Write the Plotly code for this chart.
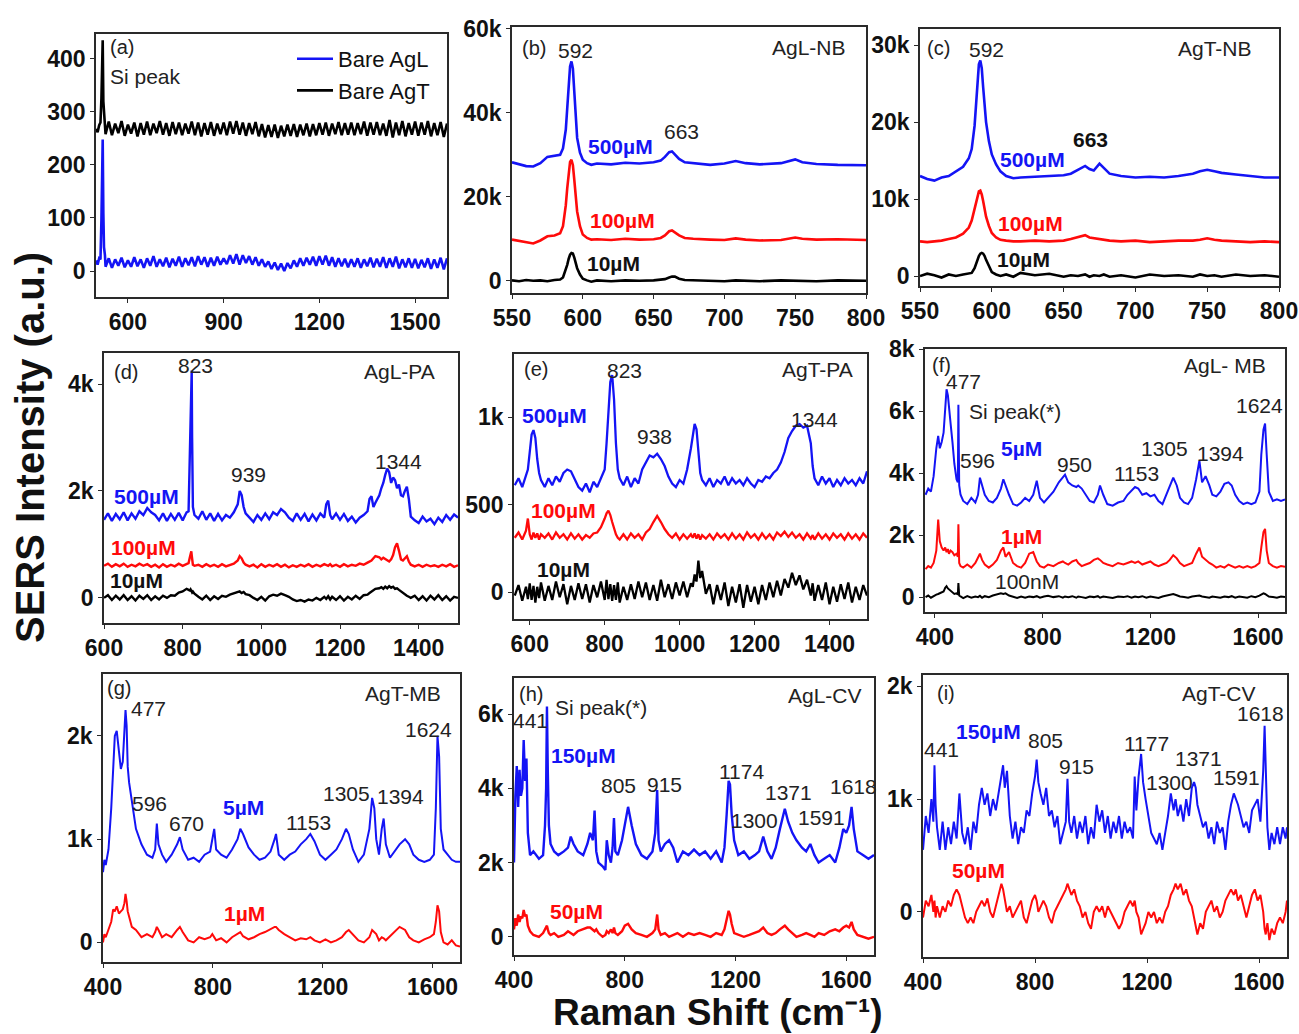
import plotly.graph_objects as go

# ---------------- DATA ----------------
# (a) bare substrates
a_x = [500, 505, 510, 514, 517, 519, 521, 523, 525, 528] + list(range(530, 1601, 10))
a_AgL = [20, 12, 24, 22, 95, 150, 248, 110, 45, 30,
         8, 24, 6, 22, 10, 25, 7, 20,
         8, 26, 9, 22, 6, 24, 10, 28, 8, 22,
         9, 25, 7, 23, 10, 27, 8, 24, 11, 26,
         9, 28, 12, 26, 8, 25, 10, 27, 12, 24,
         13, 30, 14, 32, 12, 30, 15, 28, 12, 26,
         10, 22, 8, 18, 4, 16, 2, 14, 0, 15,
         5, 20, 8, 24, 10, 25, 12, 27, 10, 28,
         12, 29, 10, 26, 8, 24, 9, 23, 7, 22,
         8, 24, 6, 22, 9, 25, 7, 23, 8, 26,
         6, 24, 8, 27, 5, 22, 7, 24, 6, 23,
         5, 21, 7, 24, 4, 22, 6, 25, 3, 24]
a_AgT = [268, 262, 275, 280, 325, 380, 435, 320, 290, 275,
         258, 282, 256, 278, 260, 283, 255, 276,
         259, 280, 254, 279, 257, 282, 256, 278, 260, 283,
         257, 279, 255, 281, 258, 280, 256, 278, 259, 282,
         256, 280, 254, 279, 257, 281, 255, 278, 258, 280,
         256, 282, 259, 283, 257, 280, 255, 279, 258, 281,
         254, 277, 252, 275, 253, 276, 251, 274, 254, 276,
         255, 277, 253, 276, 256, 278, 254, 277, 256, 279,
         257, 280, 255, 278, 258, 281, 256, 279, 257, 280,
         256, 279, 258, 282, 255, 280, 257, 281, 256, 278,
         255, 285, 252, 280, 256, 283, 254, 279, 257, 282,
         255, 280, 257, 283, 254, 279, 256, 281, 253, 278]

# (b) AgL-NB  (values in k)
b_x = [550, 555, 560, 565, 570, 575, 580, 584, 586, 588, 589, 590, 591, 592, 593, 594, 595, 596, 598, 600,
       603, 606, 610, 620, 630, 640, 650, 655, 658, 661, 663, 665, 668, 672, 678, 690, 700, 708, 715, 725,
       740, 750, 755, 765, 780, 800]
b_500 = [28.2, 27.8, 27.3, 27.2, 28.0, 29.5, 29.8, 30.0, 31.5, 36, 41, 47, 51, 52.2, 50.5, 45, 39, 34, 30.5, 28.8,
         28.0, 27.6, 27.9, 27.7, 28.1, 27.9, 28.2, 28.6, 29.5, 30.6, 30.8, 30.0, 29.0, 28.2, 28.0, 27.6, 27.9, 28.5, 28.0, 27.7,
         28.0, 28.9, 28.2, 27.8, 27.6, 27.5]
b_100 = [9.8, 9.5, 9.2, 8.9, 9.6, 10.6, 10.8, 11.3, 13, 18, 22, 26, 28.3, 28.8, 27.5, 24, 20, 16.5, 13, 11,
         10.2, 9.8, 9.9, 9.7, 10.0, 9.8, 9.9, 10.2, 10.8, 11.8, 12.0, 11.5, 10.8, 10.2, 10.0, 9.8, 9.7, 10.1, 9.8, 9.6,
         9.7, 10.3, 10.0, 9.8, 9.9, 9.7]
b_10 = [0.1, -0.1, 0.2, 0, 0.1, -0.1, 0.2, 0.3, 0.8, 2.5, 3.8, 5.2, 6.2, 6.6, 6.5, 5.5, 4.2, 3.0, 1.5, 0.5,
        0.1, -0.2, 0.1, -0.1, 0.1, 0, 0.1, 0.2, 0.4, 0.8, 1.0, 1.0, 0.5, 0.2, 0.1, 0, -0.1, 0.1, 0, -0.1,
        0.1, 0, 0.1, -0.1, 0.1, 0]

# (c) AgT-NB  (values in k)
c_x = [550, 555, 560, 565, 570, 575, 580, 584, 586, 588, 589, 590, 591, 592, 593, 594, 595, 596, 598, 600,
       603, 606, 610, 615, 620, 630, 640, 650, 655, 660, 665, 668, 671, 675, 678, 682, 690, 700, 710, 720,
       730, 740, 745, 750, 755, 760, 770, 780, 790, 800]
c_500 = [13.0, 12.6, 12.4, 12.8, 13.0, 13.6, 14.2, 15.3, 16.5, 19.5, 22, 25, 27.5, 28, 27, 24.5, 22, 20, 17.5, 15.8,
         14.5, 13.6, 13.0, 12.7, 12.8, 12.9, 13.0, 13.1, 13.3, 13.8, 14.3, 13.9, 13.7, 14.6, 14.0, 13.3, 13.0, 12.8, 12.9, 12.8,
         13.0, 13.3, 13.6, 13.8, 13.6, 13.4, 13.2, 13.0, 12.8, 12.8]
c_100 = [4.5, 4.4, 4.5, 4.6, 4.8, 5.0, 5.5, 6.3, 7.2, 8.8, 9.8, 10.6, 11.0, 11.1, 10.6, 9.7, 8.6, 7.7, 6.5, 5.6,
         5.0, 4.7, 4.6, 4.5, 4.5, 4.6, 4.5, 4.6, 4.8, 5.1, 5.3, 5.0, 4.9, 4.8, 4.7, 4.6, 4.5, 4.6, 4.4, 4.5,
         4.6, 4.6, 4.7, 4.9, 4.7, 4.6, 4.5, 4.4, 4.5, 4.4]
c_10 = [0.0, 0.3, 0.1, -0.2, 0.2, 0.0, 0.2, 0.3, 0.4, 1.0, 1.6, 2.2, 2.6, 2.9, 3.0, 2.9, 2.6, 2.1, 1.2, 0.5,
        0.2, 0.0, 0.2, -0.1, 0.4, 0.1, 0.3, -0.1, 0.1, 0.0, 0.2, -0.1, 0.1, 0.0, 0.2, -0.1, 0.1, -0.2, 0.2, 0.0,
        0.1, -0.1, 0.2, 0.0, 0.1, -0.1, 0.2, 0.0, 0.1, -0.1]

# (d) AgL-PA  (values in k)
d_x = [600, 610, 620, 630, 640, 650, 660, 670, 680, 690, 700, 710, 720, 730, 740, 750, 760, 770, 780, 790, 800, 810,
       815, 818, 820, 822, 823, 824, 826, 830,
       840, 850, 860, 870, 880, 890, 900, 910, 920, 930, 940,
       945, 950, 955, 960,
       970, 980, 990, 1000, 1010, 1020, 1030, 1040, 1050, 1060, 1070, 1080, 1090, 1100, 1110, 1120, 1130, 1140, 1150, 1160,
       1165, 1170, 1175, 1180,
       1190, 1200, 1210, 1220, 1230, 1240, 1250, 1260, 1270,
       1275, 1280, 1285, 1290,
       1300, 1305, 1310, 1315, 1320, 1325, 1330, 1335, 1340, 1345, 1350, 1355, 1360, 1365, 1370, 1375, 1380,
       1390, 1400, 1410, 1420, 1430, 1440, 1450, 1460, 1470, 1480, 1490, 1500]
d_500 = [1.46, 1.58, 1.44, 1.57, 1.47, 1.60, 1.45, 1.58, 1.48, 1.62, 1.55, 1.68, 1.60, 1.55, 1.45, 1.58, 1.44, 1.57, 1.46, 1.59, 1.45, 1.60,
         1.62, 2.5, 3.4, 4.2, 4.25, 3.0, 1.7, 1.55,
         1.48, 1.62, 1.46, 1.58, 1.44, 1.57, 1.45, 1.55, 1.50, 1.60, 1.75,
         2.0, 1.92, 1.7, 1.58,
         1.50, 1.42, 1.55, 1.46, 1.58, 1.47, 1.60, 1.55, 1.66, 1.60, 1.50, 1.44, 1.58, 1.46, 1.57, 1.43, 1.56, 1.45, 1.58, 1.50,
         1.75, 1.82, 1.55, 1.47,
         1.58, 1.46, 1.57, 1.44, 1.52, 1.41, 1.50, 1.55, 1.62,
         1.85, 1.90, 1.70, 1.78,
         1.92, 2.05, 2.15, 2.30, 2.42, 2.35, 2.15, 2.25, 2.20, 2.05, 2.12, 1.92, 1.90, 2.00, 2.08, 1.85, 1.52,
         1.45, 1.40, 1.52, 1.43, 1.48, 1.38, 1.50, 1.42, 1.55, 1.46, 1.56, 1.50]
d_100 = [0.60, 0.64, 0.58, 0.63, 0.59, 0.64, 0.58, 0.62, 0.59, 0.64, 0.60, 0.63, 0.58, 0.62, 0.57, 0.63, 0.58, 0.62, 0.59, 0.64, 0.60, 0.63,
         0.65, 0.75, 0.86, 0.87, 0.80, 0.70, 0.62, 0.60,
         0.62, 0.58, 0.63, 0.59, 0.62, 0.58, 0.63, 0.59, 0.62, 0.64, 0.70,
         0.78, 0.74, 0.66, 0.62,
         0.59, 0.62, 0.57, 0.63, 0.58, 0.62, 0.59, 0.63, 0.58, 0.62, 0.57, 0.61, 0.58, 0.62, 0.59, 0.63, 0.58, 0.62, 0.59, 0.63,
         0.62, 0.60, 0.63, 0.59,
         0.62, 0.58, 0.63, 0.59, 0.62, 0.60, 0.64, 0.62, 0.66,
         0.68, 0.70, 0.74, 0.78,
         0.76, 0.72, 0.75, 0.73, 0.70, 0.68, 0.72, 0.80, 0.95, 1.02, 0.88, 0.72, 0.70, 0.74, 0.78, 0.68, 0.62,
         0.59, 0.62, 0.58, 0.62, 0.59, 0.61, 0.58, 0.62, 0.59, 0.63, 0.58, 0.61]
d_10 = [0.0, 0.05, -0.04, 0.04, -0.03, 0.05, -0.04, 0.03, -0.05, 0.04, -0.02, 0.05, -0.04, 0.03, -0.03, 0.04, 0.0, 0.05, 0.04, 0.10, 0.12, 0.17,
        0.15, 0.14, 0.16, 0.12, 0.13, 0.10, 0.12, 0.08,
        0.02, -0.03, 0.04, -0.04, 0.03, -0.02, 0.04, 0.02, 0.06, 0.08, 0.10,
        0.12, 0.09, 0.11, 0.07,
        0.05, 0.0, -0.04, 0.02, -0.05, 0.03, 0.06, 0.04, 0.08, 0.05, 0.02, -0.03, -0.06, -0.04, -0.07, -0.03, -0.05, 0.0, -0.04, 0.02,
        -0.02, 0.03, -0.03, 0.02,
        -0.04, 0.03, -0.05, 0.02, -0.03, 0.04, -0.02, 0.05, 0.06,
        0.09, 0.12, 0.14, 0.17,
        0.18, 0.20, 0.17, 0.21, 0.18, 0.22, 0.19, 0.21, 0.17, 0.18, 0.15, 0.12, 0.10, 0.06, 0.04, 0.02, 0.0,
        0.04, -0.04, 0.03, -0.05, 0.04, -0.03, 0.05, -0.04, 0.03, -0.05, 0.02, 0.0]

# (e) AgT-PA  (raw values)
e_x = [560, 570, 580, 590,
       595, 600, 605, 610, 615, 620, 625, 630,
       640, 650, 660, 670, 680, 690, 700, 710, 720, 730, 740, 750, 760, 770, 780, 790, 800,
       805, 810, 815, 820, 825, 830, 835, 840,
       850, 860, 870, 880, 890, 900, 910, 920, 930, 940, 950, 960, 970, 980, 990, 1000, 1010, 1020, 1030,
       1035, 1040, 1045, 1050, 1055, 1060,
       1070, 1080, 1090, 1100, 1110, 1120, 1130, 1140, 1150, 1160, 1170, 1180, 1190, 1200, 1210, 1220, 1230, 1240,
       1250, 1260, 1270, 1280, 1290, 1300, 1310, 1320, 1330, 1340, 1350,
       1355,
       1360, 1370, 1380, 1390, 1400, 1410, 1420, 1430, 1440, 1450, 1460, 1470, 1480, 1490, 1500]
e_500 = [610, 650, 600, 660,
         700, 800, 900, 925, 880, 760, 680, 640,
         600, 650, 610, 660, 630, 680, 700, 690, 640, 600, 580, 620, 570, 630, 600, 650, 700,
         850, 1050, 1200, 1240, 1100, 850, 700, 650,
         610, 660, 600, 650, 620, 700, 740, 780, 770, 790, 760, 720, 660, 620, 600, 640, 620, 700, 820,
         900, 960, 930, 800, 680, 640,
         610, 650, 600, 640, 620, 660, 610, 650, 620, 640, 610, 650, 620, 600, 640, 630, 660, 650,
         680, 700, 740, 800, 880, 920, 950, 960, 940, 950, 850,
         720,
         650, 610, 660, 620, 650, 600, 640, 610, 650, 620, 640, 610, 650, 620, 690]
e_100 = [310, 340, 300, 350,
         420, 330, 300, 340, 310, 335, 300, 330,
         310, 335, 300, 340, 310, 330, 300, 335, 305, 330, 300, 325, 310, 335, 340, 370, 420,
         450, 465, 440, 400, 360, 330, 310, 300,
         330, 300, 335, 310, 330, 300, 340, 360, 400, 435, 400, 360, 330, 310, 335, 300, 330, 305, 330,
         310, 335, 305, 330, 300, 325,
         305, 330, 300, 335, 310, 330, 300, 335, 305, 330, 300, 340, 310, 330, 300, 335, 305, 330,
         300, 340, 320, 345, 315, 340, 310, 330, 300, 335, 305,
         325,
         300, 335, 305, 330, 300, 335, 310, 330, 300, 335, 305, 330, 300, 335, 310]
e_10 = [-20, 40, -50, 30,
        -40, 50, -45, 35, -60, 30, -35, 55,
        -50, 35, -45, 60, -30, 45, -70, 35, -45, 50, -40, 45, -60, 40, -30, 60, -45,
        70, -40, 45, -50, 40, -45, 55, -60,
        30, -45, 45, -40, 60, -30, 55, -45, 40, -50, 70, -30, 45, -40, 55, -20, 60, -30, 50,
        30, 100, 60, 180, 80, 120,
        -10, 45, -70, 40, -45, 55, -80, 30, -60, 45, -90, 40, -55, 30, -70, 40, -45, 55,
        -30, 65, -20, 75, 25, 110, 40, 95, 15, 70, -20,
        50,
        -50, 40, -45, 55, -70, 30, -55, 45, -40, 55, -60, 30, -45, 40, -20]

# (f) AgL-MB  (values in k)
f_x = [365, 375, 385, 395, 405, 412, 418, 425, 432, 438,
       443, 448, 452, 458, 465, 472, 480, 485, 487, 490,
       495, 505, 520, 535, 550, 560, 567, 575, 585, 600,
       615, 630, 645, 654, 662, 675, 690, 705, 720, 735,
       750, 765, 778, 790, 805, 820, 840, 860, 875, 883,
       895, 910, 925, 932, 945, 960, 975, 990, 1005, 1013,
       1025, 1040, 1060, 1080, 1100, 1115, 1130, 1143, 1155, 1170,
       1185, 1200, 1215, 1230, 1245, 1260, 1272, 1285, 1298, 1310,
       1325, 1340, 1355, 1370, 1382, 1392, 1405, 1419, 1430, 1445,
       1460, 1475, 1490, 1502, 1515, 1530, 1545, 1560, 1575, 1590,
       1605, 1612, 1620, 1626, 1632, 1640, 1655, 1670, 1685, 1700]
f_5uM = [3.3, 3.5, 3.4, 3.9, 4.8, 5.2, 4.8, 5.0, 5.3, 6.0,
         6.7, 6.5, 6.2, 5.6, 5.0, 4.3, 3.8, 3.7, 6.2, 3.6,
         3.3, 3.1, 3.0, 3.2, 3.05, 3.3, 3.85, 3.6, 3.3, 3.1,
         3.05, 3.2, 3.5, 3.8, 3.6, 3.3, 3.0, 2.95, 3.05, 3.2,
         3.1, 3.3, 3.75, 3.2, 3.05, 3.2, 3.4, 3.7, 3.85, 3.95,
         3.7, 3.6, 3.55, 3.6, 3.5, 3.3, 3.1, 3.05, 3.3, 3.6,
         3.3, 3.0, 2.95, 3.05, 3.1, 3.3, 3.45, 3.55, 3.5, 3.3,
         3.35, 3.25, 3.3, 3.1, 3.0, 3.3, 3.6, 3.85, 3.6, 3.2,
         3.05, 3.0, 3.2, 3.8, 4.4, 3.7, 3.9, 3.6, 3.3, 3.25,
         3.4, 3.65, 3.7, 3.6, 3.3, 3.1, 3.0, 3.05, 3.0, 3.05,
         3.4, 4.6, 5.4, 5.6, 4.6, 3.4, 3.1, 3.15, 3.1, 3.15]
f_1uM = [0.9, 1.0, 0.95, 1.1, 1.5, 2.5, 1.8, 1.6, 1.5, 1.6,
         1.45, 1.55, 1.4, 1.5, 1.45, 1.35, 1.4, 1.3, 2.35, 1.1,
         1.0, 0.95, 1.05, 0.95, 1.1, 1.3, 1.4, 1.2, 1.05, 0.95,
         1.05, 1.2, 1.5, 1.6, 1.3, 1.45, 1.1, 1.0, 0.95, 1.1,
         1.4, 1.45, 1.15, 1.0, 0.95, 1.05, 1.0, 1.1, 1.15, 1.1,
         1.05, 1.15, 1.2, 1.1, 1.0, 1.05, 1.1, 1.2, 1.25, 1.2,
         1.1, 1.05, 1.0, 1.1, 1.05, 1.1, 1.15, 1.1, 1.15, 1.05,
         1.1, 1.15, 1.05, 1.0, 1.05, 1.1, 1.2, 1.35, 1.25, 1.1,
         1.0, 1.05, 1.1, 1.4, 1.6, 1.3, 1.2, 1.1, 1.05, 0.95,
         1.0, 0.95, 1.05, 1.0, 0.95, 1.0, 0.95, 1.0, 0.95, 1.0,
         1.1, 1.6, 2.1, 2.2, 1.5, 1.1, 1.0, 0.95, 1.0, 0.98]
f_100nM = [0.0, 0.05, -0.02, 0.04, 0.08, 0.1, 0.12, 0.15, 0.18, 0.3,
           0.35, 0.28, 0.25, 0.2, 0.15, 0.1, 0.12, 0.08, 0.45, 0.05,
           0.02, -0.03, 0.03, -0.02, 0.02, 0.0, 0.04, -0.02, 0.03, 0.0,
           0.05, 0.08, 0.12, 0.1, 0.12, 0.05, 0.0, -0.03, 0.02, -0.02,
           0.02, 0.0, 0.03, -0.02, 0.02, 0.04, 0.0, 0.03, -0.02, 0.02,
           0.0, 0.03, -0.02, 0.02, 0.0, -0.03, 0.02, 0.0, 0.03, -0.02,
           0.02, 0.0, -0.03, 0.02, 0.0, 0.03, -0.02, 0.02, 0.0, 0.03,
           -0.02, 0.02, 0.0, -0.03, 0.02, 0.05, 0.08, 0.1, 0.06, 0.02,
           0.0, -0.02, 0.02, 0.03, 0.05, 0.02, 0.0, -0.02, 0.02, 0.0,
           -0.02, 0.02, 0.0, 0.03, -0.02, 0.02, 0.0, -0.02, 0.03, 0.0,
           0.05, 0.08, 0.12, 0.1, 0.06, 0.02, 0.0, -0.02, 0.02, 0.0]

# (g) AgT-MB  (values in k)
g_x = [400, 405, 410, 420, 430, 437, 443, 450, 458, 465,
       472, 478, 482, 486, 490, 495, 505, 520, 540, 560,
       580, 590, 596, 602, 615, 630, 650, 670, 680, 690,
       710, 730, 750, 770, 790, 798, 805, 812, 830, 850,
       870, 890, 900, 910, 930, 950, 970, 990, 1010, 1025,
       1030, 1040, 1060, 1080, 1100, 1120, 1140, 1155, 1170, 1190,
       1210, 1230, 1250, 1270, 1285, 1295, 1310, 1330, 1350, 1370,
       1380, 1388, 1395, 1405, 1415, 1422, 1430, 1445, 1460, 1480,
       1500, 1515, 1530, 1550, 1570, 1590, 1605, 1612, 1618, 1624,
       1630, 1640, 1655, 1670, 1685, 1700]
g_5uM = [0.68, 0.8, 0.75, 0.9, 1.3, 1.75, 2.0, 2.05, 1.85, 1.68,
         1.75, 2.1, 2.25, 2.1, 1.7, 1.55, 1.35, 1.1, 0.95, 0.85,
         0.82, 0.9, 1.15, 0.95, 0.85, 0.78, 0.85, 0.95, 1.02, 0.9,
         0.8, 0.82, 0.78, 0.85, 0.88, 1.0, 1.1, 0.9, 0.85, 0.82,
         0.9, 1.0, 1.1, 1.05, 0.92, 0.85, 0.8, 0.82, 0.88, 1.0,
         1.05, 0.85, 0.8, 0.85, 0.88, 0.95, 1.0, 1.05, 0.98, 0.85,
         0.8, 0.85, 0.9, 1.0, 1.1, 1.05, 0.9, 0.78, 0.85, 1.1,
         1.4, 1.3, 1.0, 0.85, 1.1, 1.2, 0.95, 0.82, 0.88, 0.95,
         1.0, 0.95, 0.85, 0.8, 0.78, 0.8, 0.85, 1.3, 2.0, 1.8,
         1.1, 0.9, 0.85, 0.8, 0.78, 0.78]
g_1uM = [0.0, 0.08, 0.05, 0.12, 0.2, 0.32, 0.3, 0.35, 0.28, 0.3,
         0.32, 0.38, 0.47, 0.4, 0.3, 0.25, 0.15, 0.12, 0.05, 0.08,
         0.05, 0.1, 0.15, 0.12, 0.05, 0.08, 0.05, 0.12, 0.15, 0.1,
         0.02, 0.0, 0.05, 0.03, 0.05, 0.08, 0.05, 0.02, 0.04, 0.0,
         0.05, 0.08, 0.1, 0.06, 0.03, 0.05, 0.08, 0.1, 0.13, 0.15,
         0.15, 0.12, 0.08, 0.05, 0.02, 0.04, 0.03, 0.05, 0.02, 0.0,
         0.03, 0.0, 0.02, 0.05, 0.1, 0.12, 0.08, 0.02, 0.0, 0.05,
         0.12, 0.1, 0.08, 0.02, 0.05, 0.04, 0.02, 0.06, 0.1, 0.15,
         0.12, 0.05, 0.02, 0.0, 0.03, 0.05, 0.08, 0.2, 0.36, 0.3,
         0.1, 0.0, -0.02, 0.02, -0.03, -0.04]

# (h) AgL-CV  (values in k)
h_x = [400, 405, 410, 415, 420, 425, 430, 435, 440, 445,
       450, 458, 470, 490, 505, 512, 516, 519, 522, 526,
       532, 545, 560, 580, 595, 605, 615, 630, 650, 665,
       675, 685, 691, 697, 705, 720, 730, 735, 742, 750,
       756, 761, 766, 775, 790, 800, 812, 825, 840, 860,
       880, 900, 910, 917, 922, 930, 945, 960, 975, 990,
       1010, 1030, 1050, 1070, 1090, 1110, 1130, 1150, 1160, 1168,
       1175, 1180, 1186, 1195, 1210, 1230, 1250, 1270, 1285, 1300,
       1315, 1330, 1345, 1360, 1378, 1390, 1405, 1420, 1440, 1455,
       1470, 1485, 1500, 1520, 1540, 1560, 1575, 1589, 1600, 1610,
       1619, 1627, 1640, 1660, 1680, 1700]
h_150uM = [2.0, 3.8, 4.6, 3.5, 4.5, 3.8, 4.0, 5.3, 4.2, 4.8,
           2.8, 2.2, 2.3, 2.1, 2.2, 3.0, 4.0, 6.2, 4.5, 3.0,
           2.5, 2.3, 2.2, 2.3, 2.4, 2.7, 2.5, 2.3, 2.2, 2.5,
           2.8, 2.6, 3.4, 2.3, 2.0, 1.9, 1.8, 2.6, 2.2, 2.0,
           2.4, 3.2, 2.3, 2.2, 2.6, 3.0, 3.5, 3.0, 2.5, 2.2,
           2.1, 2.3, 2.8, 3.95, 2.6, 2.3, 2.5, 2.6, 2.4, 2.0,
           2.3, 2.2, 2.35, 2.2, 2.3, 2.1, 2.3, 2.0, 2.4, 3.3,
           4.2, 4.1, 3.3, 2.6, 2.2, 2.3, 2.1, 2.2, 2.3, 2.7,
           2.3, 2.1, 2.4, 2.9, 3.45, 3.1, 2.8, 2.6, 2.4, 2.3,
           2.5, 2.2, 2.0, 2.1, 2.2, 2.0, 2.4, 2.9, 2.8, 3.0,
           3.5, 2.9, 2.3, 2.2, 2.1, 2.2]
h_50uM = [0.2, 0.5, 0.3, 0.6, 0.4, 0.55, 0.5, 0.72, 0.55, 0.6,
          0.3, 0.15, 0.05, 0.0, 0.1, 0.2, 0.25, 0.3, 0.2, 0.1,
          0.05, 0.1, 0.0, 0.05, 0.15, 0.1, 0.05, 0.15, 0.2, 0.25,
          0.25, 0.2, 0.15, 0.2, 0.1, 0.0, 0.05, 0.15, 0.1, 0.2,
          0.1, 0.25, 0.1, 0.05, 0.15, 0.3, 0.35, 0.2, 0.1, 0.05,
          0.0, 0.1, 0.2, 0.6, 0.2, 0.05, 0.1, 0.0, 0.05, 0.1,
          0.0, 0.1, 0.05, 0.1, 0.05, 0.0, 0.1, 0.05, 0.2, 0.45,
          0.7, 0.6, 0.35, 0.1, 0.05, 0.0, 0.05, 0.1, 0.15, 0.25,
          0.1, 0.05, 0.1, 0.2, 0.3, 0.2, 0.1, 0.0, 0.05, 0.1,
          0.05, 0.0, 0.1, 0.05, 0.15, 0.2, 0.15, 0.25, 0.3, 0.25,
          0.4, 0.2, 0.05, 0.0, -0.05, 0.0]

# (i) AgT-CV  (values in k)
i_x = [400, 410, 420, 430, 437, 441, 445, 450, 460, 470,
       480, 490, 500, 510, 520, 530, 540, 550, 560, 570,
       580, 590, 600, 610, 620, 630, 640, 650, 660, 670,
       680, 686, 692, 700, 710, 720, 730, 740, 750, 760,
       770, 780, 790, 800, 806, 812, 820, 830, 840, 850,
       860, 870, 880, 890, 900, 910, 916, 922, 930, 940,
       950, 960, 970, 980, 990, 1000, 1010, 1020, 1030, 1040,
       1050, 1060, 1070, 1080, 1090, 1100, 1110, 1120, 1130, 1140,
       1150, 1156, 1162, 1170, 1179, 1186, 1195, 1205, 1215, 1225,
       1235, 1245, 1255, 1265, 1275, 1285, 1295, 1302, 1310, 1320,
       1330, 1340, 1350, 1360, 1368, 1374, 1380, 1390, 1400, 1410,
       1420, 1430, 1440, 1450, 1460, 1470, 1480, 1490, 1500, 1510,
       1517, 1525, 1535, 1545, 1555, 1565, 1575, 1585, 1595, 1605,
       1615, 1620, 1624, 1630, 1637, 1645, 1655, 1665, 1675, 1685,
       1695, 1700]
i_150uM = [0.55, 0.85, 0.7, 1.0, 0.8, 1.3, 0.95, 0.75, 0.55, 0.8,
           0.55, 0.75, 0.6, 0.8, 0.65, 1.05, 0.7, 0.6, 0.75, 0.55,
           0.8, 0.7, 0.95, 1.1, 0.95, 1.05, 0.85, 1.0, 0.9, 1.05,
           1.2, 1.3, 1.1, 1.25, 0.85, 0.65, 0.8, 0.6, 0.75, 0.7,
           0.9, 0.85, 1.05, 1.2, 1.35, 1.15, 1.05, 0.95, 1.1, 0.85,
           0.9, 0.75, 0.85, 0.6, 0.7, 0.8, 1.18, 0.8, 0.7, 0.85,
           0.65, 0.8, 0.7, 0.85, 0.6, 0.75, 0.65, 0.95, 0.8, 0.9,
           0.7, 0.85, 0.65, 0.8, 0.7, 0.85, 0.65, 0.8, 0.7, 0.75,
           0.65, 1.2, 0.9, 1.2, 1.4, 1.15, 1.0, 0.85, 0.7, 0.65,
           0.6, 0.7, 0.55, 0.7, 0.85, 1.05, 0.9, 1.0, 0.85, 0.95,
           0.8, 1.0, 0.85, 1.1, 1.15, 1.1, 0.95, 0.85, 0.75, 0.8,
           0.65, 0.75, 0.6, 0.8, 0.7, 0.75, 0.55, 0.8, 0.95, 1.05,
           1.0, 0.95, 0.85, 0.75, 0.8, 0.7, 0.9, 0.95, 1.0, 0.8,
           1.25, 1.65, 1.35, 0.75, 0.55, 0.7, 0.6, 0.75, 0.6, 0.75,
           0.65, 0.75]
i_50uM = [-0.05, 0.1, 0.05, 0.15, 0.0, 0.1, -0.05, 0.05, -0.05, 0.05,
          0.0, 0.1, 0.05, 0.15, 0.2, 0.15, 0.05, -0.05, -0.1, -0.05,
          -0.1, 0.0, 0.05, 0.1, 0.05, 0.12, 0.0, -0.05, 0.05, 0.15,
          0.25, 0.2, 0.1, 0.0, 0.05, -0.05, 0.0, 0.05, 0.1, -0.05,
          -0.1, 0.0, 0.1, 0.15, 0.1, 0.0, 0.05, 0.1, 0.05, -0.05,
          -0.1, 0.0, 0.05, 0.1, 0.15, 0.2, 0.25, 0.2, 0.15, 0.2,
          0.1, 0.05, -0.05, 0.0, -0.1, -0.15, 0.0, 0.05, 0.0, 0.05,
          -0.05, 0.05, 0.0, -0.05, -0.1, -0.15, -0.1, 0.0, 0.05, 0.1,
          0.05, 0.1, 0.0, -0.05, -0.2, -0.15, -0.1, 0.0, -0.05, 0.0,
          -0.1, -0.05, -0.1, 0.0, 0.05, 0.15, 0.2, 0.25, 0.2, 0.25,
          0.15, 0.2, 0.1, 0.05, -0.05, -0.15, -0.2, -0.1, -0.15, 0.0,
          0.05, 0.1, 0.0, 0.05, -0.05, 0.0, 0.1, 0.15, 0.2, 0.15,
          0.2, 0.1, 0.15, 0.05, -0.05, 0.05, 0.15, 0.2, 0.1, 0.15,
          0.0, -0.15, -0.2, -0.1, -0.25, -0.15, -0.2, -0.1, -0.05, -0.1,
          0.0, 0.1]

# tick labels
x_ticks_a = [600, 900, 1200, 1500]
x_ticks_nb = [550, 600, 650, 700, 750, 800]
x_ticks_pa = [600, 800, 1000, 1200, 1400]
x_ticks_mb = [400, 800, 1200, 1600]
y_ticks = {
    "a": ([0, 100, 200, 300, 400], ["0", "100", "200", "300", "400"]),
    "b": ([0, 20, 40, 60], ["0", "20k", "40k", "60k"]),
    "c": ([0, 10, 20, 30], ["0", "10k", "20k", "30k"]),
    "d": ([0, 2, 4], ["0", "2k", "4k"]),
    "e": ([0, 500, 1000], ["0", "500", "1k"]),
    "f": ([0, 2, 4, 6, 8], ["0", "2k", "4k", "6k", "8k"]),
    "g": ([0, 1, 2], ["0", "1k", "2k"]),
    "h": ([0, 2, 4, 6], ["0", "2k", "4k", "6k"]),
    "i": ([0, 1, 2], ["0", "1k", "2k"]),
}

# ---------------- STYLE / LAYOUT ----------------
W, H = 1299, 1034
BLUE, RED, BLACK = "#1414F5", "#FF0A0A", "#000000"
FONT = "Liberation Sans, Arial, sans-serif"

panels = {
    # key: (axis index, pixel box [l, t, r, b], xrange, yrange, xticks)
    "a": (1, [96, 34, 447, 297], [500, 1600], [-49, 447], x_ticks_a),
    "b": (2, [512, 27, 866, 293], [550, 800], [-2.9, 60.4], x_ticks_nb),
    "c": (3, [920, 29, 1279, 286], [550, 800], [-1.3, 32.1], x_ticks_nb),
    "d": (4, [104, 353, 458, 623], [600, 1500], [-0.47, 4.58], x_ticks_pa),
    "e": (5, [514, 354, 867, 619], [558, 1500], [-154, 1360], x_ticks_pa),
    "f": (6, [925, 349, 1285, 612], [363, 1700], [-0.48, 8.0], x_ticks_mb),
    "g": (7, [103, 674, 460, 962], [400, 1700], [-0.19, 2.6], x_ticks_mb),
    "h": (8, [514, 678, 874, 955], [400, 1700], [-0.49, 6.97], x_ticks_mb),
    "i": (9, [923, 675, 1287, 957], [400, 1700], [-0.4, 2.1], x_ticks_mb),
}

series = {
    "a": [(a_x, a_AgL, BLUE, "Bare AgL"), (a_x, a_AgT, BLACK, "Bare AgT")],
    "b": [(b_x, b_500, BLUE, "500µM"), (b_x, b_100, RED, "100µM"), (b_x, b_10, BLACK, "10µM")],
    "c": [(c_x, c_500, BLUE, "500µM"), (c_x, c_100, RED, "100µM"), (c_x, c_10, BLACK, "10µM")],
    "d": [(d_x, d_500, BLUE, "500µM"), (d_x, d_100, RED, "100µM"), (d_x, d_10, BLACK, "10µM")],
    "e": [(e_x, e_500, BLUE, "500µM"), (e_x, e_100, RED, "100µM"), (e_x, e_10, BLACK, "10µM")],
    "f": [(f_x, f_5uM, BLUE, "5µM"), (f_x, f_1uM, RED, "1µM"), (f_x, f_100nM, BLACK, "100nM")],
    "g": [(g_x, g_5uM, BLUE, "5µM"), (g_x, g_1uM, RED, "1µM")],
    "h": [(h_x, h_150uM, BLUE, "150µM"), (h_x, h_50uM, RED, "50µM")],
    "i": [(i_x, i_150uM, BLUE, "150µM"), (i_x, i_50uM, RED, "50µM")],
}
line_w = {"a": 2.6, "b": 2.6, "c": 2.6, "d": 2.4, "e": 2.3, "f": 2.0, "g": 2.0, "h": 2.4, "i": 2.0}

# annotations: (text, x, y, kind)
labels = {
    "a": [("(a)", 537, 423, "tag"), ("Si peak", 537, 366, "tagl")],
    "b": [("(b)", 555.6, 55.5, "tag"), ("592", 595, 54.8, "num"), ("AgL-NB", 787, 55.5, "title"),
          ("663", 669.8, 35.5, "num"), ("500µM", 626.7, 32.0, BLUE), ("100µM", 627.9, 14.4, RED),
          ("10µM", 621.5, 4.05, "numb")],
    "c": [("(c)", 553.5, 29.6, "tag"), ("592", 596.4, 29.4, "num"), ("AgT-NB", 782.6, 29.6, "title"),
          ("663", 669, 17.8, "numb"), ("500µM", 628.5, 15.1, BLUE), ("100µM", 627, 6.8, RED),
          ("10µM", 622, 2.2, "numb")],
    "d": [("(d)", 619.5, 4.23, "tag"), ("823", 833, 4.35, "num"), ("AgL-PA", 1447, 4.23, "title"),
          ("939", 967, 2.3, "num"), ("1344", 1348, 2.55, "num"), ("500µM", 707, 1.9, BLUE),
          ("100µM", 700, 0.95, RED), ("10µM", 683, 0.32, "numb")],
    "e": [("(e)", 578.5, 1272, "tag"), ("823", 851.6, 1268, "num"), ("AgT-PA", 1468, 1272, "title"),
          ("938", 934, 887, "num"), ("1344", 1361, 988, "num"), ("500µM", 667, 1011, BLUE),
          ("100µM", 691, 465, RED), ("10µM", 691, 130, "numb")],
    "f": [("(f)", 381.6, 7.48, "tag"), ("477", 505, 6.95, "num"), ("AgL- MB", 1638, 7.48, "title"),
          ("Si peak(*)", 518, 5.98, "tagl"), ("596", 557.6, 4.42, "num"), ("5µM", 722, 4.8, BLUE),
          ("950", 920, 4.26, "num"), ("1153", 1147, 3.99, "num"), ("1305", 1254, 4.8, "num"),
          ("1394", 1459, 4.64, "num"), ("1624", 1607, 6.19, "num"), ("1µM", 722, 1.95, RED),
          ("100nM", 740.7, 0.49, "num")],
    "g": [("(g)", 407, 2.46, "tag"), ("477", 565, 2.27, "num"), ("AgT-MB", 1639, 2.41, "title"),
          ("596", 571, 1.35, "num"), ("670", 705, 1.15, "num"), ("5µM", 913, 1.31, BLUE),
          ("1153", 1147, 1.16, "num"), ("1305", 1285, 1.44, "num"), ("1394", 1485, 1.41, "num"),
          ("1624", 1584, 2.06, "num"), ("1µM", 917, 0.28, RED)],
    "h": [("(h)", 410, 6.54, "tag"), ("Si peak(*)", 540, 6.18, "tagl"), ("441", 458, 5.82, "num"),
          ("AgL-CV", 1665, 6.5, "title"), ("150µM", 650, 4.87, BLUE), ("805", 777, 4.08, "num"),
          ("915", 942, 4.11, "num"), ("1174", 1222, 4.44, "num"), ("1371", 1390, 3.88, "num"),
          ("1300", 1270, 3.14, "num"), ("1591", 1511, 3.21, "num"), ("1618", 1625, 4.05, "num"),
          ("50µM", 626, 0.68, RED)],
    "i": [("(i)", 443, 1.94, "tag"), ("AgT-CV", 1598, 1.94, "title"), ("1618", 1604, 1.76, "num"),
          ("150µM", 633, 1.6, BLUE), ("441", 467, 1.44, "num"), ("805", 836, 1.52, "num"),
          ("915", 949, 1.29, "num"), ("1177", 1199, 1.49, "num"), ("1371", 1383, 1.36, "num"),
          ("1300", 1282, 1.15, "num"), ("1591", 1518, 1.19, "num"), ("50µM", 598, 0.37, RED)],
}

fig = go.Figure()
layout_axes = {}
annotations = []

for key, (n, box, xr, yr, xt) in panels.items():
    l, t, r, b = box
    xname = "x" if n == 1 else f"x{n}"
    yname = "y" if n == 1 else f"y{n}"
    xa = "xaxis" if n == 1 else f"xaxis{n}"
    ya = "yaxis" if n == 1 else f"yaxis{n}"
    common = dict(showline=True, mirror=True, linecolor="#2a2a2a", linewidth=1.6,
                  ticks="outside", ticklen=4, tickwidth=1.4, tickcolor="#2a2a2a",
                  showgrid=False, zeroline=False, automargin=False,
                  tickfont=dict(family=FONT, size=23, color="#111", weight="bold"))
    layout_axes[xa] = dict(domain=[l / W, r / W], range=xr, anchor=yname,
                           tickvals=xt, ticktext=[str(v) for v in xt], **common)
    layout_axes[ya] = dict(domain=[1 - b / H, 1 - t / H], range=yr, anchor=xname,
                           tickvals=y_ticks[key][0], ticktext=y_ticks[key][1], **common)
    for xs, ys, col, name in series[key]:
        fig.add_trace(go.Scatter(x=xs, y=ys, mode="lines", name=name,
                                 line=dict(color=col, width=line_w[key]),
                                 xaxis=xname, yaxis=yname,
                                 showlegend=(key == "a")))
    for text, x, y, kind in labels[key]:
        if kind == "tag":
            font = dict(family=FONT, size=20, color="#222")
            anchor = "left"
        elif kind == "tagl":
            font = dict(family=FONT, size=21, color="#222")
            anchor = "left"
        elif kind == "title":
            font = dict(family=FONT, size=21, color="#222")
            anchor = "right"
        elif kind == "num":
            font = dict(family=FONT, size=21, color="#222")
            anchor = "center"
        elif kind == "numb":
            font = dict(family=FONT, size=21, color="#111", weight="bold")
            anchor = "center"
        else:
            font = dict(family=FONT, size=21, color=kind, weight="bold")
            anchor = "center"
        annotations.append(dict(text=text, x=x, y=y, xref=xname, yref=yname,
                                showarrow=False, xanchor=anchor, yanchor="middle", font=font))

annotations.append(dict(text="SERS Intensity (a.u.)", x=30 / W, y=1 - 448 / H, xref="paper", yref="paper",
                        showarrow=False, textangle=-90, xanchor="center", yanchor="middle",
                        font=dict(family=FONT, size=40, color="#111", weight="bold")))
annotations.append(dict(text="Raman Shift (cm\u207b\u00b9)", x=718 / W, y=0.0, xref="paper", yref="paper",
                        showarrow=False, xanchor="center", yanchor="bottom", borderpad=0,
                        font=dict(family=FONT, size=37, color="#111", weight="bold")))

fig.update_layout(
    width=W, height=H, margin=dict(l=0, r=0, t=0, b=0),
    paper_bgcolor="white", plot_bgcolor="white",
    annotations=annotations,
    legend=dict(x=292 / W, y=1 - 38 / H, xanchor="left", yanchor="top",
                bgcolor="rgba(0,0,0,0)", font=dict(family=FONT, size=22, color="#111"),
                tracegroupgap=0, itemwidth=36),
    **layout_axes,
)
fig.write_html("out.html")
